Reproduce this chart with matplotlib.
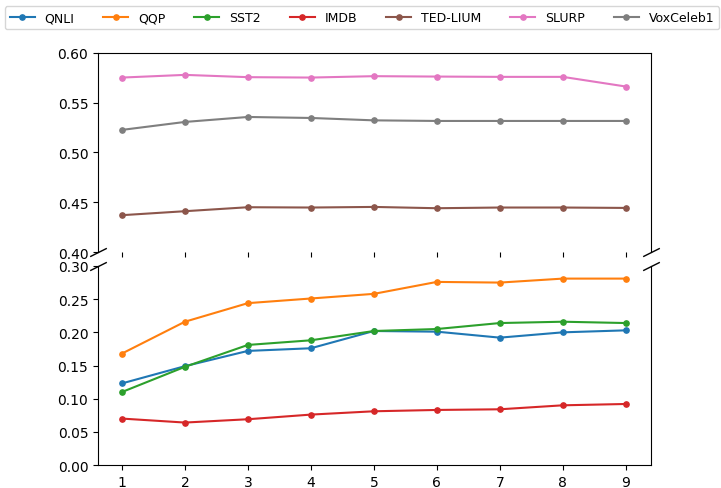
import numpy as np
import matplotlib
matplotlib.use("Agg")
import matplotlib.pyplot as plt

steps = [1, 2, 3, 4, 5, 6, 7, 8, 9]

qnli = [0.123, 0.149, 0.172, 0.176, 0.202, 0.201, 0.192, 0.200, 0.203]
qqp = [0.168, 0.216, 0.244, 0.251, 0.258, 0.276, 0.275, 0.281, 0.281]
sst2 = [0.110, 0.148, 0.181, 0.188, 0.202, 0.205, 0.214, 0.216, 0.214]
imdb = [0.070, 0.064, 0.069, 0.076, 0.081, 0.083, 0.084, 0.090, 0.092]
ted_lium = [0.437, 0.441, 0.445, 0.4447, 0.4453, 0.444, 0.4447, 0.4447, 0.4443]
slurp = [0.5753, 0.578, 0.5757, 0.5753, 0.5767, 0.5763, 0.576, 0.576, 0.5663]
voxceleb1 = [0.5227, 0.5307, 0.5357, 0.5347, 0.5323, 0.5317, 0.5317, 0.5317, 0.5317]

low_series = [("QNLI", qnli, "tab:blue"), ("QQP", qqp, "tab:orange"),
              ("SST2", sst2, "tab:green"), ("IMDB", imdb, "tab:red")]
high_series = [("TED-LIUM", ted_lium, "tab:brown"), ("SLURP", slurp, "tab:pink"),
               ("VoxCeleb1", voxceleb1, "tab:gray")]

fig = plt.figure(figsize=(7.21, 4.89), dpi=100)
ax_top = fig.add_axes([0.1359, 0.4826, 0.767, 0.407])
ax_bot = fig.add_axes([0.1359, 0.047, 0.767, 0.407])

handles = []
for name, vals, col in low_series:
    h, = ax_bot.plot(steps, vals, marker="o", markersize=3.8, color=col, label=name)
    handles.append(h)
for name, vals, col in high_series:
    h, = ax_top.plot(steps, vals, marker="o", markersize=3.8, color=col, label=name)
    handles.append(h)

ax_top.set_ylim(0.40, 0.60)
ax_bot.set_ylim(0.0, 0.30)
ax_top.set_yticks([0.40, 0.45, 0.50, 0.55, 0.60])
ax_bot.set_yticks([0.00, 0.05, 0.10, 0.15, 0.20, 0.25, 0.30])
ax_top.yaxis.set_major_formatter(matplotlib.ticker.FormatStrFormatter("%.2f"))
ax_bot.yaxis.set_major_formatter(matplotlib.ticker.FormatStrFormatter("%.2f"))
for ax in (ax_top, ax_bot):
    ax.set_xlim(0.62, 9.4)
    ax.set_xticks(steps)
    ax.tick_params(labelsize=10)

ax_top.spines["bottom"].set_visible(False)
ax_bot.spines["top"].set_visible(False)
ax_top.tick_params(axis="x", labelbottom=False)

# break marks
d = 0.5
kw = dict(marker=[(-1, -d), (1, d)], markersize=12, linestyle="none",
          color="k", mec="k", mew=1, clip_on=False)
ax_top.plot([0, 1], [0, 0], transform=ax_top.transAxes, **kw)
ax_bot.plot([0, 1], [1, 1], transform=ax_bot.transAxes, **kw)

fig.legend(handles=handles, loc="upper center", bbox_to_anchor=(0.502, 0.998),
           ncol=7, fontsize=9, columnspacing=2.3)

fig.savefig("out.png", dpi=100)
